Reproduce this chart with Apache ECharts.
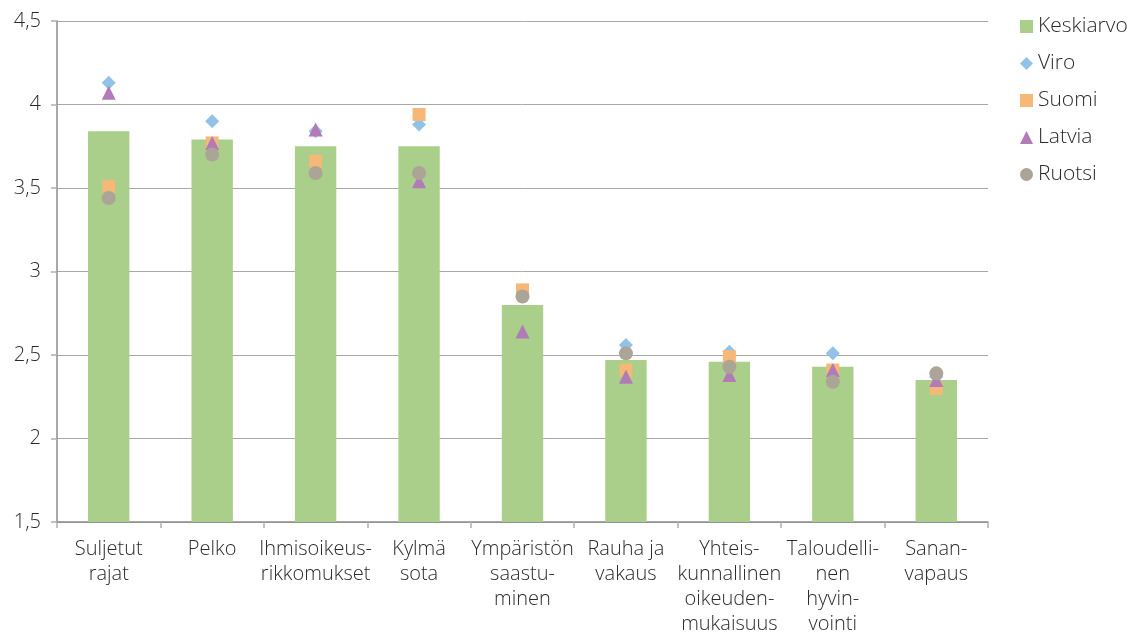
<!DOCTYPE html>
<html>
<head>
<meta charset="utf-8">
<script src="https://cdn.jsdelivr.net/npm/echarts@6/dist/echarts.min.js"></script>
<style>
html,body{margin:0;padding:0;background:#fff;}
#chart{width:1133px;height:639px;}
</style>
</head>
<body>
<div id="chart"></div>
<script>
const categories = [
  "Suljetut\nrajat", "Pelko", "Ihmisoikeus-\nrikkomukset", "Kylmä\nsota",
  "Ympäristön\nsaastu-\nminen", "Rauha ja\nvakaus", "Yhteis-\nkunnallinen\noikeuden-\nmukaisuus",
  "Taloudelli-\nnen\nhyvin-\nvointi", "Sanan-\nvapaus"
];
const keskiarvo = [3.84, 3.79, 3.75, 3.75, 2.80, 2.47, 2.46, 2.43, 2.35];
const viro      = [4.13, 3.90, 3.84, 3.88, 2.85, 2.56, 2.52, 2.51, 2.37];
const suomi     = [3.51, 3.77, 3.66, 3.94, 2.89, 2.41, 2.49, 2.41, 2.30];
const latvia    = [4.07, 3.77, 3.85, 3.54, 2.64, 2.37, 2.38, 2.41, 2.35];
const ruotsi    = [3.44, 3.70, 3.59, 3.59, 2.85, 2.51, 2.43, 2.34, 2.39];

const font = "'Open Sans', sans-serif";
const textColor = "#2b2b2b";
const fw = 300;

const chart = echarts.init(document.getElementById('chart'));
chart.setOption({
  animation: false,
  textStyle: { fontFamily: font },
  grid: { left: 57, right: 145, top: 21, bottom: 117, containLabel: false },
  legend: {
    orient: 'vertical',
    left: 1015,
    top: 11,
    itemWidth: 13,
    itemHeight: 13,
    itemGap: 16,
    textStyle: { fontFamily: font, fontSize: 21, fontWeight: fw, color: textColor, padding: [0, 0, 0, 0] },
    data: [
      { name: 'Keskiarvo', icon: 'rect' },
      { name: 'Viro', icon: 'diamond' },
      { name: 'Suomi', icon: 'rect' },
      { name: 'Latvia', icon: 'triangle' },
      { name: 'Ruotsi', icon: 'circle' }
    ]
  },
  xAxis: {
    type: 'category',
    data: categories,
    axisLine: { show: true, lineStyle: { color: '#8c8c8c', width: 1.5 } },
    axisTick: { show: true, alignWithLabel: false, length: 6, lineStyle: { color: '#b0b0b0', width: 1.5 } },
    axisLabel: { fontFamily: font, fontSize: 20, fontWeight: fw, color: textColor, lineHeight: 25, margin: 15, interval: 0 }
  },
  yAxis: {
    type: 'value',
    min: 1.5, max: 4.5, interval: 0.5,
    axisLine: { show: true, lineStyle: { color: '#8c8c8c', width: 1.5 } },
    axisTick: { show: true, length: 6, lineStyle: { color: '#b0b0b0', width: 1.5 } },
    axisLabel: {
      fontFamily: font, fontSize: 20, fontWeight: fw, color: textColor, margin: 16,
      formatter: v => String(v).replace('.', ',')
    },
    splitLine: { show: true, lineStyle: { color: '#a8a8a8', width: 1 } }
  },
  series: [
    { name: 'Keskiarvo', type: 'bar', data: keskiarvo, barWidth: '40%',
      itemStyle: { color: '#a9cf8a' } },
    { name: 'Viro', type: 'scatter', data: viro, symbol: 'diamond', symbolSize: 14,
      itemStyle: { color: '#92c2e8', opacity: 1 } },
    { name: 'Suomi', type: 'scatter', data: suomi, symbol: 'rect', symbolSize: 13,
      itemStyle: { color: '#f5b877', opacity: 1 } },
    { name: 'Latvia', type: 'scatter', data: latvia, symbol: 'triangle', symbolSize: 14,
      itemStyle: { color: '#b27bb7', opacity: 1 } },
    { name: 'Ruotsi', type: 'scatter', data: ruotsi, symbol: 'circle', symbolSize: 14,
      itemStyle: { color: '#aca497', opacity: 1 } }
  ]
});
</script>
</body>
</html>
